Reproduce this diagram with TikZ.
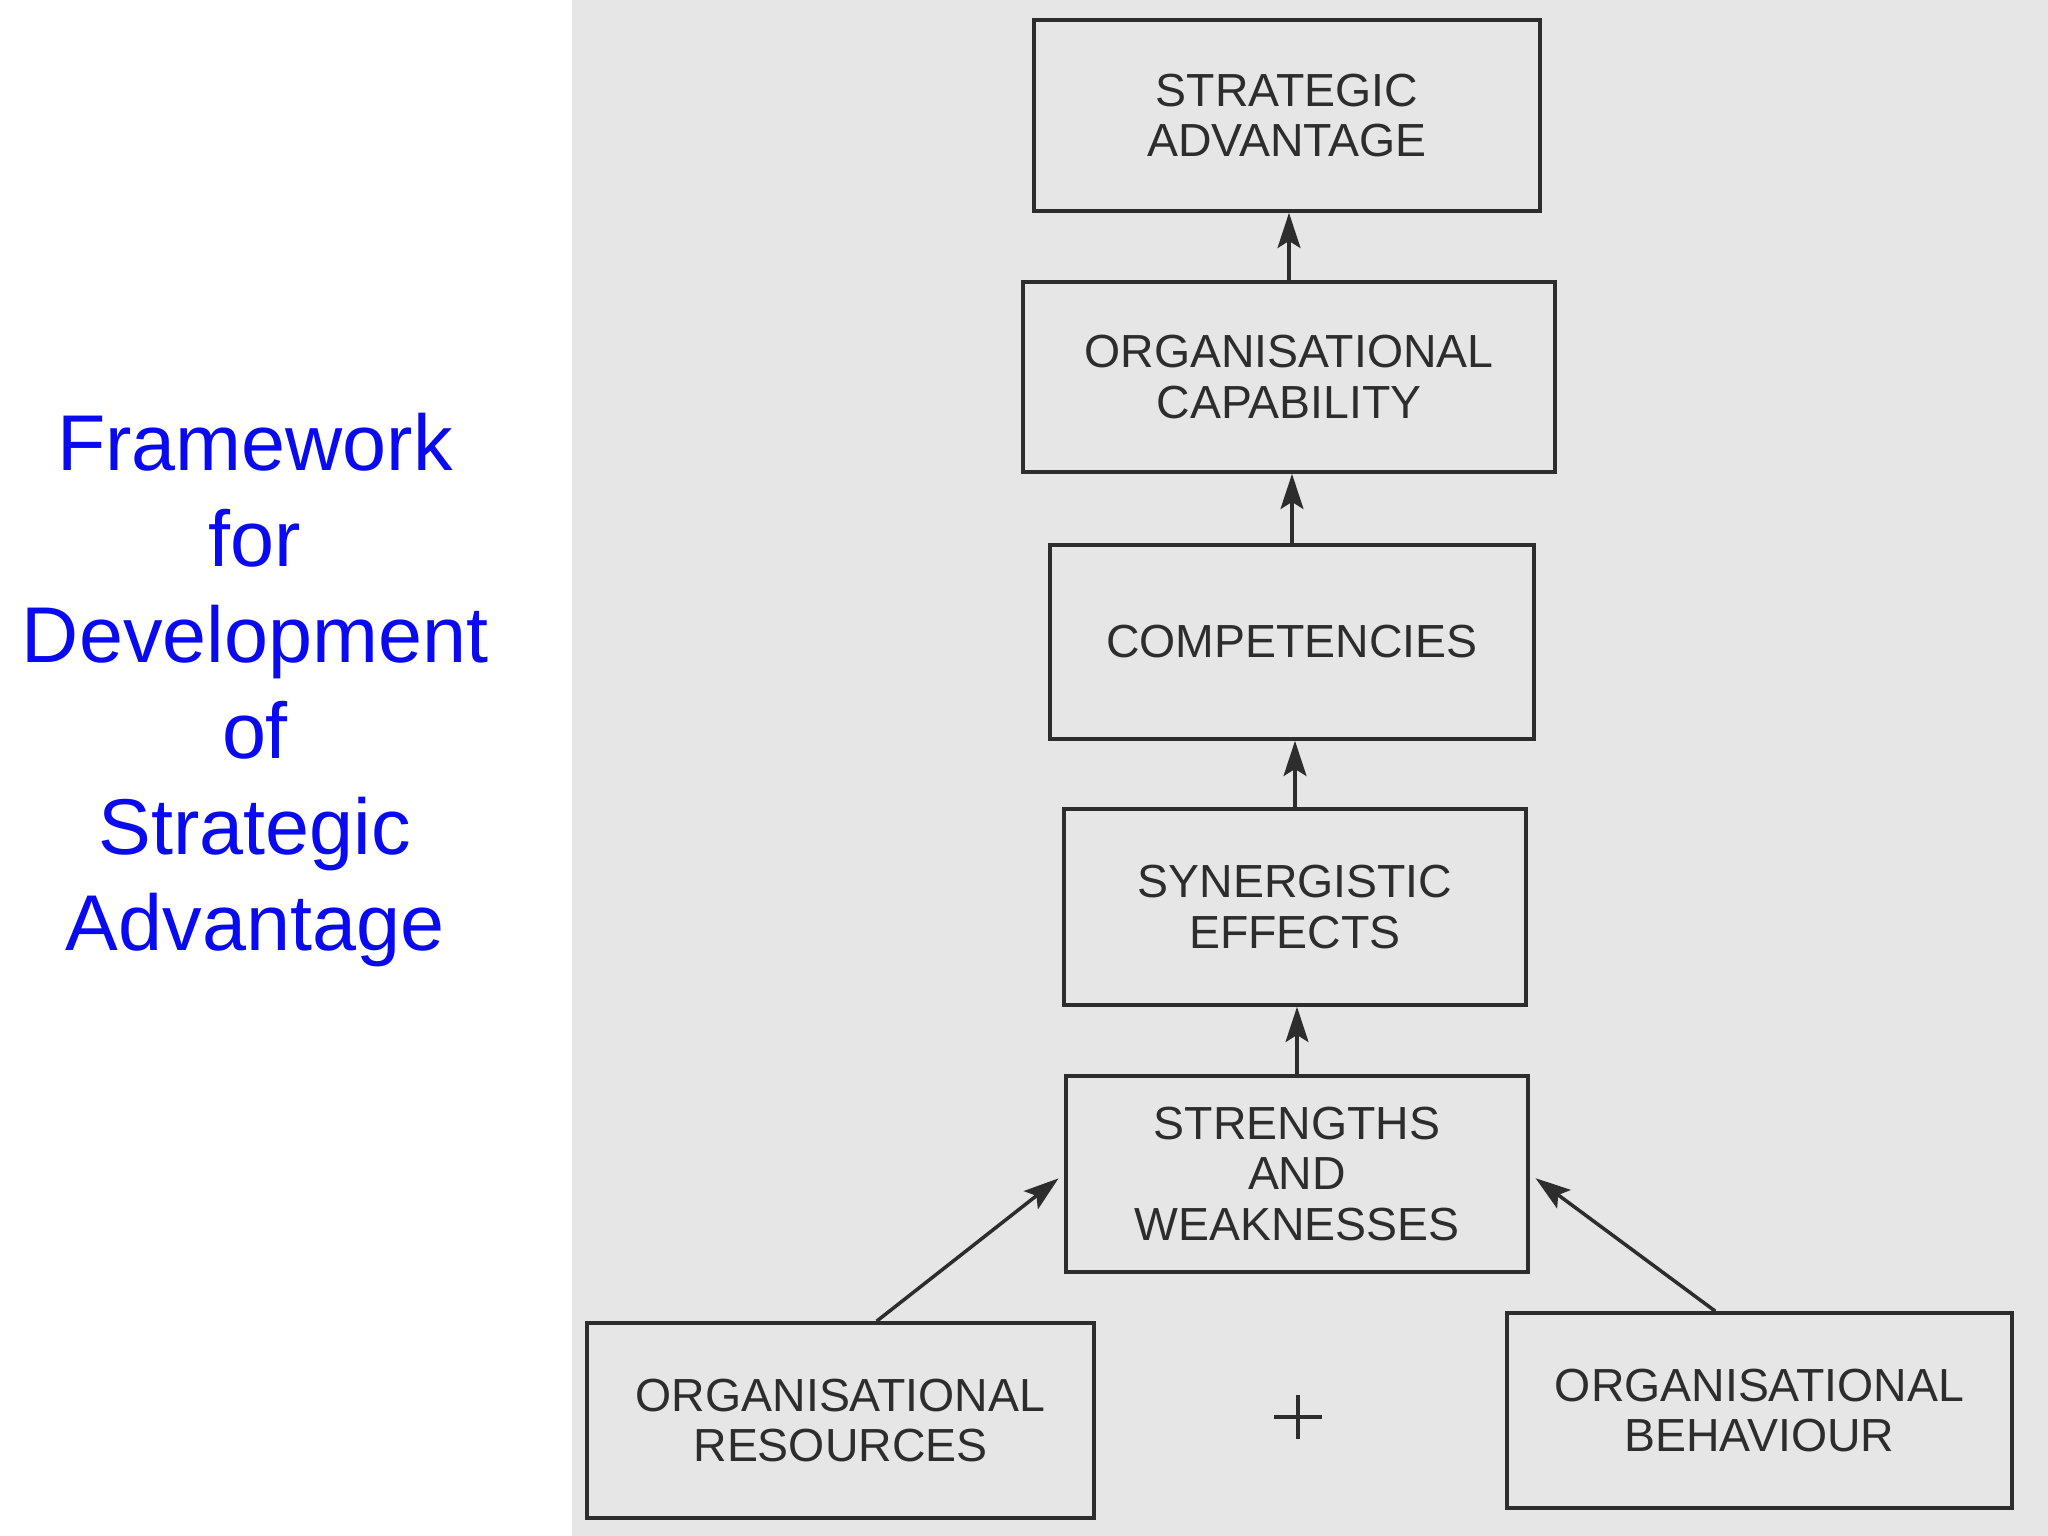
\documentclass[tikz,border=0pt]{standalone}
\usepackage{fontspec}
\setmainfont{Liberation Sans}
\usetikzlibrary{arrows.meta, calc}
\definecolor{scan}{RGB}{230,230,230}
\definecolor{ink}{RGB}{45,45,45}
\definecolor{titleblue}{RGB}{10,10,240}
\tikzset{
	stage/.style={draw=ink, line width=1pt, text=ink, inner sep=0pt, align=center,
		font=\fontsize{13.2}{14.4}\selectfont},
	arr/.style={draw=ink, line width=1pt, -{Stealth[length=10pt, width=6.5pt, inset=2pt]}}
}
\begin{document}
\begin{tikzpicture}[x=0.01cm, y=-0.01cm]
				\fill[white] (0,0) rectangle (2048,1536);
				\fill[scan] (572,0) rectangle (2048,1536);
				%title
				\node[text=titleblue, align=center, font=\fontsize{22.5}{27.3}\selectfont] (title) at (255, 690)
					{Framework\\for\\Development\\of\\Strategic\\Advantage};
				%stages
				\node[stage, minimum width=5.06cm, minimum height=1.91cm] (sa) at (1287, 115.5) {STRATEGIC\\ADVANTAGE};
				\node[stage, minimum width=5.32cm, minimum height=1.90cm] (oc) at (1289, 377) {ORGANISATIONAL\\CAPABILITY};
				\node[stage, minimum width=4.84cm, minimum height=1.94cm] (comp) at (1292, 642) {COMPETENCIES};
				\node[stage, minimum width=4.62cm, minimum height=1.96cm] (se) at (1295, 907) {SYNERGISTIC\\EFFECTS};
				\node[stage, minimum width=4.62cm, minimum height=1.96cm] (sw) at (1297, 1174) {STRENGTHS\\AND\\WEAKNESSES};
				\node[stage, minimum width=5.07cm, minimum height=1.95cm] (or) at (840.5, 1420.5) {ORGANISATIONAL\\RESOURCES};
				\node[stage, minimum width=5.05cm, minimum height=1.95cm] (ob) at (1759.5, 1410.5) {ORGANISATIONAL\\BEHAVIOUR};
				%arrows
				\foreach \a/\b in {oc/sa, comp/oc, se/comp, sw/se} {
					\draw[arr] (\a.north) -- (\a.north |- \b.south);
				}
				\draw[arr, shorten >=2pt] (or.70) -- (sw.west);
				\draw[arr, shorten >=2pt] (ob.114) -- (sw.east);
				%plus
				\coordinate (plus) at (1298, 1417);
				\draw[ink, line width=0.9pt] ($(plus)+(-24,0)$) -- ($(plus)+(24,0)$);
				\draw[ink, line width=0.9pt] ($(plus)+(0,-22)$) -- ($(plus)+(0,22)$);
			\end{tikzpicture}
\end{document}
